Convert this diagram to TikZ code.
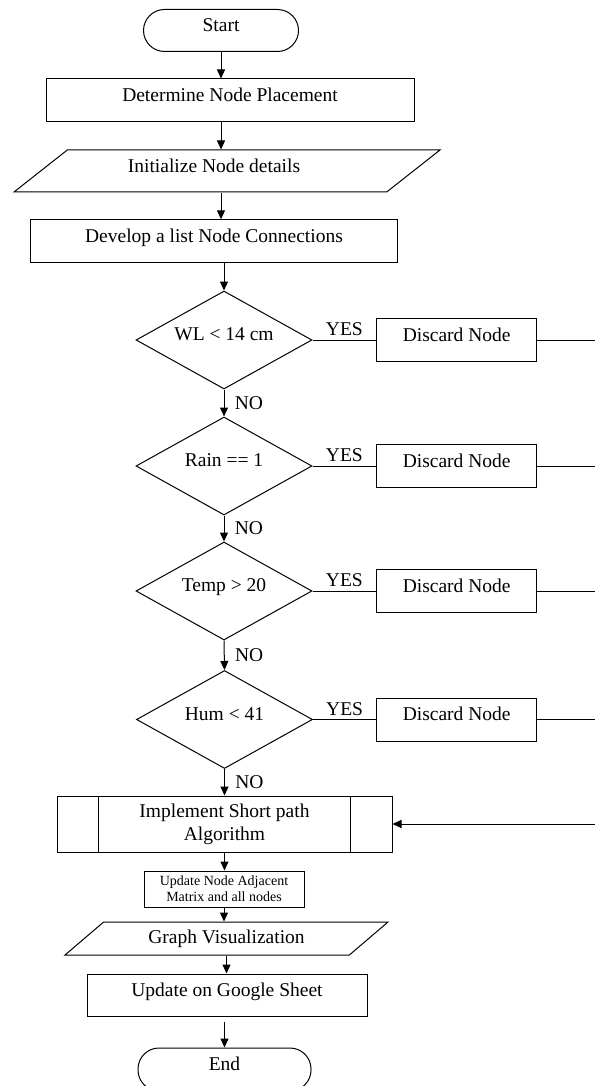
\documentclass[tikz,border=0pt]{standalone}
\usepackage{fontspec}
\setmainfont{Liberation Serif}
\usetikzlibrary{shapes.geometric,arrows.meta}

\tikzset{
    flowbox/.style={draw, line width=1pt, font=\fontsize{19.5}{23}\selectfont, align=center, inner sep=2pt},
    oneline/.style={text height=12pt, text depth=10pt},
    terminal/.style={flowbox, oneline, rectangle, rounded corners=21pt, minimum height=42pt},
    process/.style={flowbox, rectangle, minimum height=43pt},
    decision/.style={flowbox, diamond, shape aspect=1.8, text height=8pt, text depth=7pt, minimum width=176pt, minimum height=98pt, inner sep=0pt},
    inout/.style={flowbox, trapezium, trapezium stretches body=true},
    discard/.style={process, oneline, minimum width=160pt},
    flow/.style={line width=1pt, -{Triangle[length=9pt,width=8pt]}},
    link/.style={line width=1pt},
    nolabel/.style={right, xshift=7pt, font=\fontsize{19.5}{23}\selectfont},
    yeslabel/.style={above, font=\fontsize{19.5}{23}\selectfont},
}

\begin{document}
\begin{tikzpicture}[x=1pt, y=-1pt]
        \useasboundingbox (0,0) rectangle (595,1086);
        \clip (0,0) rectangle (595,1086);

        \coordinate (edge) at (595,0);

        \node[terminal, minimum width=155pt] (start) at (221,30.5) {Start};
        \node[process, oneline, minimum width=368pt] (place) at (230,100.5) {Determine Node Placement};
        \node[inout, oneline, trapezium left angle=26, trapezium right angle=154, minimum width=426pt, minimum height=42pt] (init) at (227,171) {\hspace*{-26pt}Initialize Node details};
        \node[process, oneline, minimum width=367pt] (conn) at (214,241.3) {Develop a list Node Connections};

        \node[decision] (wl) at (224,340) {WL < 14 cm};
        \node[decision] (rain) at (224,466) {Rain == 1};
        \node[decision] (temp) at (224,591) {Temp > 20};
        \node[decision] (hum) at (224.5,719.5) {Hum < 41};

        \node[discard] (d1) at (456.7,340) {Discard Node};
        \node[discard] (d2) at (456.7,466) {Discard Node};
        \node[discard] (d3) at (456.7,591) {Discard Node};
        \node[discard] (d4) at (456.7,719.5) {Discard Node};

        \node[process, minimum width=335pt, minimum height=56pt] (proc) at (224.5,824) {Implement Short path\\Algorithm};
        \draw[link] ([xshift=42pt]proc.north west) -- ([xshift=42pt]proc.south west);
        \draw[link] ([xshift=-42pt]proc.north east) -- ([xshift=-42pt]proc.south east);

        \node[process, minimum width=160pt, minimum height=36pt, inner sep=1pt, font=\fontsize{14}{16}\selectfont] (adj) at (224,889) {Update Node Adjacent\\Matrix and all nodes};
        \node[inout, trapezium left angle=27, trapezium right angle=153, minimum width=323pt, minimum height=33pt, inner sep=1pt] (vis) at (226.5,938.5) {Graph Visualization};
        \node[process, oneline, minimum width=280pt, minimum height=42pt] (sheet) at (227,995) {Update on Google Sheet};
        \node[terminal, minimum width=173pt, minimum height=43pt] (end) at (224.5,1069.5) {End};

        \draw[flow] (start.south) -- (start.south |- place.north);
        \draw[flow] (place.south -| start) -- (init.north -| start);
        \draw[flow] (init.south -| start) -- (conn.north -| start);
        \draw[flow] (conn.south -| wl) -- (wl.north);

        \draw[flow] (wl.south) -- (rain.north) node[nolabel, midway] {NO};
        \draw[flow] (rain.south) -- (temp.north) node[nolabel, midway] {NO};
        \draw[flow] (temp.south) -- (hum.north) node[nolabel, midway] {NO};
        \draw[flow] (hum.south) -- (hum.south |- proc.north) node[nolabel, midway] {NO};

        \draw[link] (wl.east) -- (d1.west) node[yeslabel, midway] {YES};
        \draw[link] (rain.east) -- (d2.west) node[yeslabel, midway] {YES};
        \draw[link] (temp.east) -- (d3.west) node[yeslabel, midway] {YES};
        \draw[link] (hum.east) -- (d4.west) node[yeslabel, midway] {YES};

        \draw[link] (d1.east) -- (d1.east -| edge);
        \draw[link] (d2.east) -- (d2.east -| edge);
        \draw[link] (d3.east) -- (d3.east -| edge);
        \draw[link] (d4.east) -- (d4.east -| edge);
        \draw[flow] (proc.east -| edge) -- (proc.east);

        \draw[flow] (proc.south) -- (proc.south |- adj.north);
        \draw[flow] (adj.south) -- (adj.south |- vis.north);
        \draw[flow] (vis.south) -- (vis.south |- sheet.north);
        \draw[flow] ([yshift=-5pt]sheet.south -| end) -- (end.north);

\end{tikzpicture}
\end{document}
